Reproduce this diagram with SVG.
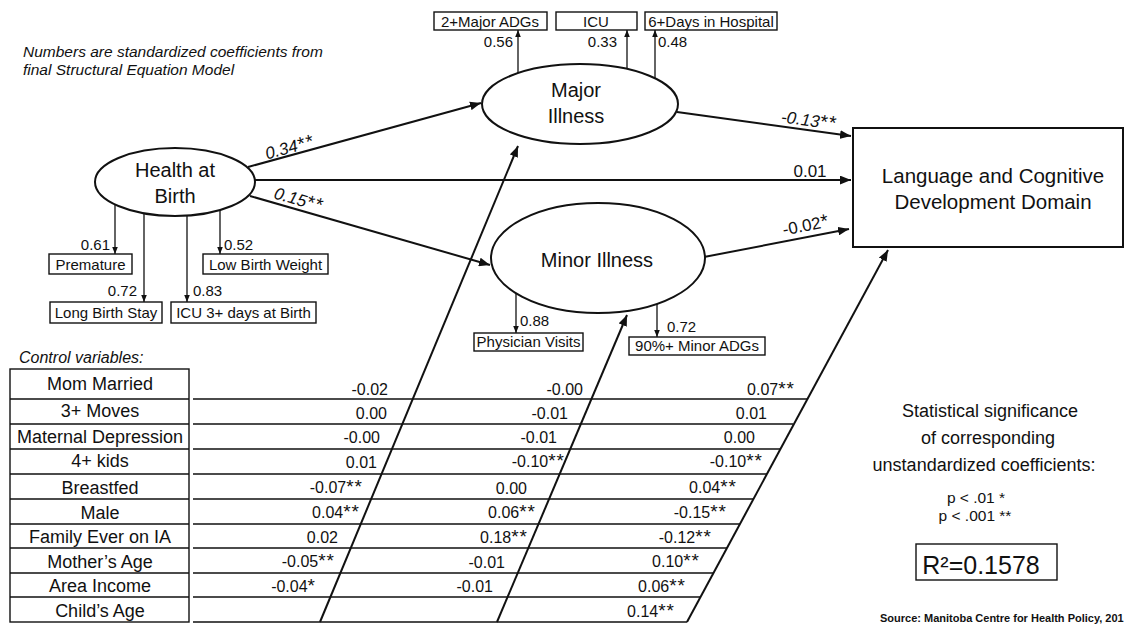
<svg xmlns="http://www.w3.org/2000/svg" width="1126" height="626" viewBox="0 0 1126 626">
  <style>
    text { font-family: "Liberation Sans", Arial, sans-serif; fill: #111; }
    .node { fill: #fff; stroke: #111; stroke-width: 2; }
    .ind { fill: #fff; stroke: #111; stroke-width: 1.4; }
    .edge { fill: none; stroke: #111; stroke-width: 2; }
    .thin { fill: none; stroke: #111; stroke-width: 1.3; }
    .grid { fill: none; stroke: #111; stroke-width: 1.4; }
    .lat { font-size: 20px; text-anchor: middle; }
    .it { font-size: 15px; text-anchor: middle; }
    .ld { font-size: 15px; }
    .coef { font-size: 17px; }
    .row { font-size: 18px; text-anchor: middle; }
    .val { font-size: 16px; text-anchor: end; }
    .st { font-size: 19px; letter-spacing: 1px; }
    .note { font-size: 15.5px; font-style: italic; }
  </style>
  <defs>
    <marker id="ah" viewBox="0 0 10 8" refX="10" refY="4" markerWidth="11" markerHeight="9" markerUnits="userSpaceOnUse" orient="auto">
      <path d="M0,0 L10,4 L0,8 z" fill="#111"/>
    </marker>
    <marker id="ahs" viewBox="0 0 10 8" refX="10" refY="4" markerWidth="7" markerHeight="6" markerUnits="userSpaceOnUse" orient="auto">
      <path d="M0,0 L10,4 L0,8 z" fill="#111"/>
    </marker>
  </defs>

  <rect width="1126" height="626" fill="#fff"/>

  <!-- model note -->
  <text class="note" x="23" y="57">Numbers are standardized coefficients from</text>
  <text class="note" x="23" y="75">final Structural Equation Model</text>

  <!-- paths between latent variables, outcome and control block -->
  <g id="connectors">
    <line class="edge" x1="248" y1="167" x2="481" y2="103" marker-end="url(#ah)"/>
    <line class="edge" x1="250" y1="196" x2="490" y2="265" marker-end="url(#ah)"/>
    <line class="edge" x1="255" y1="180" x2="851" y2="180" marker-end="url(#ah)"/>
    <line class="edge" x1="677" y1="112" x2="851" y2="136" marker-end="url(#ah)"/>
    <line class="edge" x1="704" y1="257" x2="849" y2="229" marker-end="url(#ah)"/>
    <line class="edge" x1="320" y1="622" x2="518" y2="146" marker-end="url(#ah)"/>
    <line class="edge" x1="497" y1="622" x2="627" y2="315" marker-end="url(#ah)"/>
    <line class="edge" x1="687" y1="622" x2="888" y2="250" marker-end="url(#ah)"/>

    <!-- measurement paths -->
    <line class="thin" x1="518" y1="74" x2="518" y2="30" marker-end="url(#ahs)"/>
    <line class="thin" x1="627" y1="70" x2="627" y2="30" marker-end="url(#ahs)"/>
    <line class="thin" x1="655" y1="78" x2="655" y2="30" marker-end="url(#ahs)"/>
    <line class="thin" x1="115" y1="205" x2="115" y2="254" marker-end="url(#ahs)"/>
    <line class="thin" x1="144" y1="213" x2="144" y2="302" marker-end="url(#ahs)"/>
    <line class="thin" x1="187" y1="216" x2="187" y2="302" marker-end="url(#ahs)"/>
    <line class="thin" x1="220" y1="210" x2="220" y2="254" marker-end="url(#ahs)"/>
    <line class="thin" x1="516" y1="288" x2="516" y2="333" marker-end="url(#ahs)"/>
    <line class="thin" x1="657" y1="304" x2="657" y2="337" marker-end="url(#ahs)"/>

    <!-- path coefficients -->
    <text class="coef" font-style="italic" transform="translate(291,153) rotate(-15)" text-anchor="middle">0.34<tspan class="st">**</tspan></text>
    <text class="coef" font-style="italic" transform="translate(297,205) rotate(16)" text-anchor="middle">0.15<tspan class="st">**</tspan></text>
    <text class="coef" font-style="italic" transform="translate(808,126) rotate(7.5)" text-anchor="middle">-0.13<tspan class="st">**</tspan></text>
    <text class="coef" x="810" y="177" text-anchor="middle">0.01</text>
    <text class="coef" transform="translate(807,231) rotate(-11)" text-anchor="middle">-0.02<tspan class="st">*</tspan></text>

    <!-- loadings -->
    <text class="ld" x="513" y="47" text-anchor="end">0.56</text>
    <text class="ld" x="617" y="47" text-anchor="end">0.33</text>
    <text class="ld" x="658" y="47">0.48</text>
    <text class="ld" x="110" y="250" text-anchor="end">0.61</text>
    <text class="ld" x="224" y="250">0.52</text>
    <text class="ld" x="137" y="296" text-anchor="end">0.72</text>
    <text class="ld" x="193" y="296">0.83</text>
    <text class="ld" x="520" y="326">0.88</text>
    <text class="ld" x="667" y="332">0.72</text>
  </g>

  <g id="health-at-birth">
    <ellipse class="node" cx="175" cy="182" rx="80" ry="34"/>
    <text class="lat" x="175" y="177">Health at</text>
    <text class="lat" x="175" y="203">Birth</text>
  </g>

  <g id="major-illness">
    <ellipse class="node" cx="580" cy="104" rx="98" ry="40"/>
    <text class="lat" x="576" y="97">Major</text>
    <text class="lat" x="576" y="123">Illness</text>
  </g>

  <g id="minor-illness">
    <ellipse class="node" cx="598" cy="258" rx="107" ry="55"/>
    <text class="lat" x="597" y="267">Minor Illness</text>
  </g>

  <g id="language-cognitive">
    <rect class="node" x="853" y="128" width="270" height="119"/>
    <text x="993" y="183" font-size="20.5" text-anchor="middle">Language and Cognitive</text>
    <text x="993" y="209" font-size="20.5" text-anchor="middle">Development Domain</text>
  </g>

  <g id="major-indicators">
    <rect class="ind" x="434" y="12" width="113" height="18"/>
    <text class="it" x="490" y="27">2+Major ADGs</text>
    <rect class="ind" x="556" y="12" width="81" height="18"/>
    <text class="it" x="596" y="27">ICU</text>
    <rect class="ind" x="645" y="12" width="132" height="18"/>
    <text class="it" x="711" y="27">6+Days in Hospital</text>
  </g>

  <g id="birth-indicators">
    <rect class="ind" x="49" y="254" width="83" height="20"/>
    <text class="it" x="90.5" y="270">Premature</text>
    <rect class="ind" x="203" y="254" width="125" height="20"/>
    <text class="it" x="265.5" y="270">Low Birth Weight</text>
    <rect class="ind" x="50" y="302" width="112" height="21"/>
    <text class="it" x="106" y="318">Long Birth Stay</text>
    <rect class="ind" x="171" y="302" width="145" height="21"/>
    <text class="it" x="243.5" y="318">ICU 3+ days at Birth</text>
  </g>

  <g id="minor-indicators">
    <rect class="ind" x="474" y="333" width="109" height="18"/>
    <text class="it" x="528.5" y="347">Physician Visits</text>
    <rect class="ind" x="629" y="337" width="136" height="18"/>
    <text class="it" x="697" y="351">90%+ Minor ADGs</text>
  </g>

  <!-- control variables -->
  <g id="controls">
    <text x="19" y="363" font-size="16" font-style="italic">Control variables:</text>
    <rect class="grid" x="10" y="369" width="179" height="253"/>
    <path class="grid" d="M10,399H189 M10,424H189 M10,449H189 M10,474H189 M10,499H189 M10,524H189 M10,548H189 M10,573H189 M10,597H189"/>
    <path class="grid" d="M193,399H807 M193,424H793 M193,449H780 M193,474H767 M193,499H753 M193,524H740 M193,548H727 M193,573H713 M193,597H700 M193,622H687"/>

    <text class="row" x="100" y="390">Mom Married</text>
    <text class="row" x="100" y="417">3+ Moves</text>
    <text class="row" x="100" y="443">Maternal Depression</text>
    <text class="row" x="100" y="467">4+ kids</text>
    <text class="row" x="100" y="494">Breastfed</text>
    <text class="row" x="100" y="519">Male</text>
    <text class="row" x="100" y="543">Family Ever on IA</text>
    <text class="row" x="100" y="568">Mother’s Age</text>
    <text class="row" x="100" y="592">Area Income</text>
    <text class="row" x="100" y="617">Child’s Age</text>

    <!-- effects on major illness -->
    <text class="val" x="388" y="395">-0.02</text>
    <text class="val" x="387" y="419">0.00</text>
    <text class="val" x="380" y="443">-0.00</text>
    <text class="val" x="377" y="468">0.01</text>
    <text class="val" x="363" y="493">-0.07<tspan class="st">**</tspan></text>
    <text class="val" x="360" y="518">0.04<tspan class="st">**</tspan></text>
    <text class="val" x="338" y="543">0.02</text>
    <text class="val" x="335" y="567">-0.05<tspan class="st">**</tspan></text>
    <text class="val" x="316" y="592">-0.04<tspan class="st">*</tspan></text>

    <!-- effects on minor illness -->
    <text class="val" x="583" y="395">-0.00</text>
    <text class="val" x="568" y="419">-0.01</text>
    <text class="val" x="557" y="443">-0.01</text>
    <text class="val" x="565" y="467">-0.10<tspan class="st">**</tspan></text>
    <text class="val" x="527" y="494">0.00</text>
    <text class="val" x="536" y="518">0.06<tspan class="st">**</tspan></text>
    <text class="val" x="528" y="543">0.18<tspan class="st">**</tspan></text>
    <text class="val" x="505" y="568">-0.01</text>
    <text class="val" x="493" y="592">-0.01</text>

    <!-- effects on language and cognitive development -->
    <text class="val" x="795" y="395">0.07<tspan class="st">**</tspan></text>
    <text class="val" x="767" y="419">0.01</text>
    <text class="val" x="755" y="443">0.00</text>
    <text class="val" x="763" y="467">-0.10<tspan class="st">**</tspan></text>
    <text class="val" x="737" y="493">0.04<tspan class="st">**</tspan></text>
    <text class="val" x="727" y="518">-0.15<tspan class="st">**</tspan></text>
    <text class="val" x="712" y="543">-0.12<tspan class="st">**</tspan></text>
    <text class="val" x="700" y="567">0.10<tspan class="st">**</tspan></text>
    <text class="val" x="686" y="592">0.06<tspan class="st">**</tspan></text>
    <text class="val" x="675" y="617">0.14<tspan class="st">**</tspan></text>
  </g>

  <!-- significance legend -->
  <g id="legend">
    <text x="990" y="417" font-size="18" text-anchor="middle">Statistical significance</text>
    <text x="988" y="444" font-size="18" text-anchor="middle">of corresponding</text>
    <text x="984" y="471" font-size="18" text-anchor="middle">unstandardized coefficients:</text>
    <text x="976" y="503" font-size="15.5" text-anchor="middle">p &lt; .01 *</text>
    <text x="975" y="521" font-size="15.5" text-anchor="middle">p &lt; .001 **</text>
    <rect class="ind" x="916" y="544" width="141" height="36"/>
    <text x="981" y="574" font-size="25" text-anchor="middle">R²=0.1578</text>
    <text x="880" y="622" font-size="11" font-weight="bold">Source: Manitoba Centre for Health Policy, 201</text>
  </g>
</svg>
